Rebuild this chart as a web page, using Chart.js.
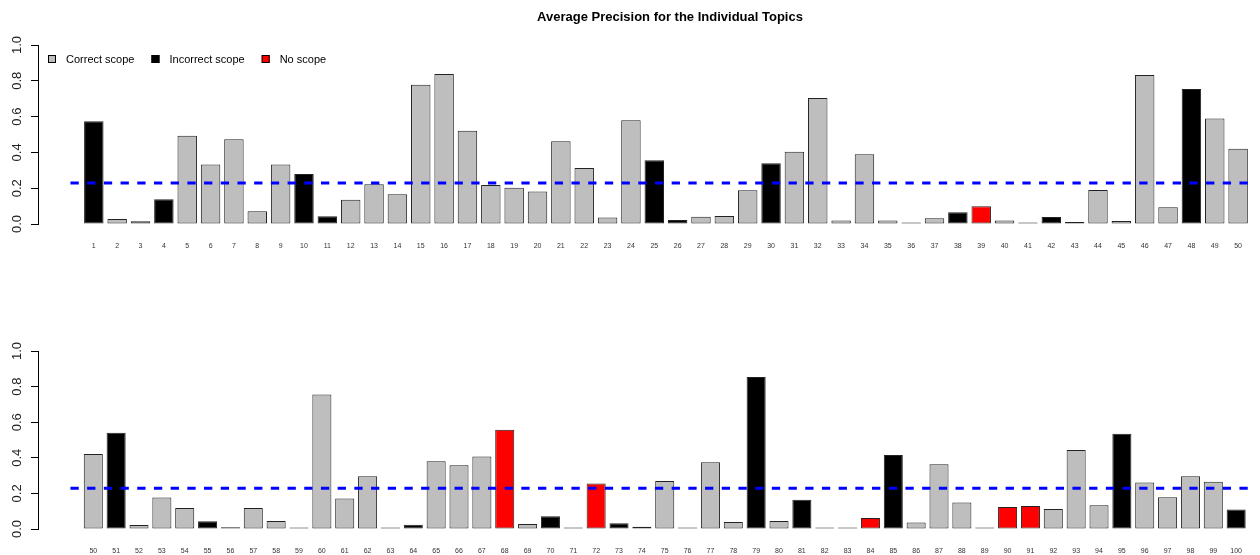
<!DOCTYPE html>
<html>
<head>
<meta charset="utf-8">
<script src="https://cdn.jsdelivr.net/npm/chart.js@4"></script>
<style>
  html, body { margin: 0; padding: 0; background: #fff; overflow: hidden; }
  canvas { display: block; }
</style>
</head>
<body>
<canvas id="topChart" width="1260" height="270"></canvas>
<canvas id="bottomChart" width="1260" height="285"></canvas>
<script>
// Topics 1..100
const topics = [
  1, 2, 3, 4, 5, 6, 7, 8, 9, 10, 11, 12, 13, 14, 15, 16, 17, 18, 19, 20,
  21, 22, 23, 24, 25, 26, 27, 28, 29, 30, 31, 32, 33, 34, 35, 36, 37, 38, 39, 40,
  41, 42, 43, 44, 45, 46, 47, 48, 49, 50, 51, 52, 53, 54, 55, 56, 57, 58, 59, 60,
  61, 62, 63, 64, 65, 66, 67, 68, 69, 70, 71, 72, 73, 74, 75, 76, 77, 78, 79, 80,
  81, 82, 83, 84, 85, 86, 87, 88, 89, 90, 91, 92, 93, 94, 95, 96, 97, 98, 99, 100
];

// Average precision per topic
const precision = [
  0.574, 0.028, 0.015, 0.138, 0.493, 0.333, 0.473, 0.071, 0.333, 0.279,
  0.043, 0.136, 0.222, 0.166, 0.778, 0.838, 0.521, 0.218, 0.203, 0.181,
  0.462, 0.313, 0.037, 0.579, 0.356, 0.022, 0.041, 0.045, 0.188, 0.339,
  0.404, 0.704, 0.020, 0.389, 0.019, 0.002, 0.032, 0.065, 0.099, 0.019,
  0.009, 0.039, 0.011, 0.190, 0.017, 0.832, 0.093, 0.754, 0.590, 0.421,
  0.541, 0.022, 0.177, 0.118, 0.043, 0.010, 0.118, 0.045, 0.001, 0.756,
  0.172, 0.297, 0.001, 0.024, 0.381, 0.358, 0.407, 0.558, 0.028, 0.071,
  0.003, 0.256, 0.032, 0.013, 0.269, 0.006, 0.375, 0.039, 0.854, 0.045,
  0.164, 0.006, 0.003, 0.062, 0.416, 0.037, 0.364, 0.149, 0.005, 0.123,
  0.129, 0.112, 0.444, 0.134, 0.535, 0.261, 0.179, 0.297, 0.265, 0.110
];

// C = correct scope, I = incorrect scope, N = no scope
const scope = [
  "I", "C", "C", "I", "C", "C", "C", "C", "C", "I",
  "I", "C", "C", "C", "C", "C", "C", "C", "C", "C",
  "C", "C", "C", "C", "I", "I", "C", "C", "C", "I",
  "C", "C", "C", "C", "C", "C", "C", "I", "N", "C",
  "I", "I", "C", "C", "C", "C", "C", "I", "C", "C",
  "I", "C", "C", "C", "I", "N", "C", "C", "C", "C",
  "C", "C", "C", "I", "C", "C", "C", "N", "C", "I",
  "C", "N", "I", "I", "C", "I", "C", "C", "I", "C",
  "I", "I", "C", "N", "I", "C", "C", "C", "I", "N",
  "N", "C", "C", "C", "I", "C", "C", "C", "C", "I"
];

const meanPrecision = 0.229;
const yTicks = [0, 0.2, 0.4, 0.6, 0.8, 1.0];
const scopeKeys = ["C", "I", "N"];
const scopeNames = ["Correct scope", "Incorrect scope", "No scope"];
const scopeColors = { C: "#bebebe", I: "#000000", N: "#ff0000" };
const chartTitle = "Average Precision for the Individual Topics";

const FONT = "'Liberation Sans', Arial, Helvetica, sans-serif";

// title + legend drawn on the upper panel
const headerPlugin = {
  id: "header",
  afterDraw(chart) {
    const ctx = chart.ctx;
    const area = chart.chartArea;
    ctx.save();
    ctx.fillStyle = "#000";
    ctx.font = "bold 13px " + FONT;
    ctx.textAlign = "center";
    ctx.textBaseline = "middle";
    ctx.fillText(chartTitle, 670, 17.5);

    ctx.font = "11px " + FONT;
    ctx.textAlign = "left";
    let x = area.left + 10;
    const yMid = 59;
    scopeKeys.forEach((k, i) => {
      ctx.fillStyle = scopeColors[k];
      ctx.fillRect(x, yMid - 4, 8, 8);
      ctx.strokeStyle = "#000";
      ctx.lineWidth = 1;
      ctx.strokeRect(x + 0.5, yMid - 3.5, 7, 7);
      ctx.fillStyle = "#000";
      ctx.fillText(scopeNames[i], x + 18, yMid + 0.5);
      x += 18 + ctx.measureText(scopeNames[i]).width + 17;
    });
    ctx.restore();
  }
};

function makePanel(canvasId, first, last, xMin, xMax, padTop, padBottom, xAxisH, extraPlugins) {
  const idx = [];
  topics.forEach((t, i) => { if (t >= first && t <= last) idx.push(i); });
  const bars = idx.map(i => ({ x: topics[i], y: precision[i] }));
  const colors = idx.map(i => scopeColors[scope[i]]);
  const labels = idx.map(i => topics[i]);

  return new Chart(document.getElementById(canvasId), {
    type: "bar",
    data: {
      datasets: [
        {
          type: "line",
          data: [{ x: first - 1, y: meanPrecision }, { x: xMax, y: meanPrecision }],
          borderColor: "#0000ff",
          borderWidth: 3,
          borderDash: [8.3, 8.4],
          pointRadius: 0,
          fill: false,
          order: 0
        },
        {
          type: "bar",
          data: bars,
          backgroundColor: colors,
          borderColor: "#222",
          borderWidth: 1,
          borderSkipped: false,
          barPercentage: 1 / 1.2,
          categoryPercentage: 1,
          minBarLength: 1.5,
          order: 1
        }
      ]
    },
    options: {
      responsive: false,
      animation: false,
      layout: { padding: { top: padTop, bottom: padBottom, left: 0, right: 0 } },
      plugins: { legend: { display: false }, tooltip: { enabled: false } },
      scales: {
        x: {
          type: "linear",
          min: xMin,
          max: xMax,
          offset: false,
          grid: { display: false, drawTicks: false },
          border: { display: false },
          afterBuildTicks: s => { s.ticks = labels.map(v => ({ value: v })); },
          afterFit: s => { s.height = xAxisH; },
          ticks: {
            autoSkip: false,
            maxRotation: 0,
            padding: 18,
            color: "#333",
            font: { size: 7, family: FONT },
            callback: v => String(v)
          }
        },
        y: {
          min: 0,
          max: 1,
          afterBuildTicks: s => { s.ticks = yTicks.map(v => ({ value: v })); },
          afterFit: s => { s.width = 38; },
          grid: { drawOnChartArea: false, drawTicks: true, tickLength: 7, color: "#000" },
          border: { display: true, color: "#000", width: 1 },
          ticks: {
            minRotation: 90,
            maxRotation: 90,
            crossAlign: "center",
            padding: 5,
            color: "#222",
            font: { size: 13, family: FONT },
            callback: v => v.toFixed(1)
          }
        }
      }
    },
    plugins: extraPlugins
  });
}

// upper panel: topics 1-50, lower panel: topics 50-100
makePanel("topChart", 1, 50, -1.390, 50.755, 45, 14, 32, [headerPlugin]);
makePanel("bottomChart", 50, 100, 47.581, 100.757, 81, 1, 25, []);
</script>
</body>
</html>
